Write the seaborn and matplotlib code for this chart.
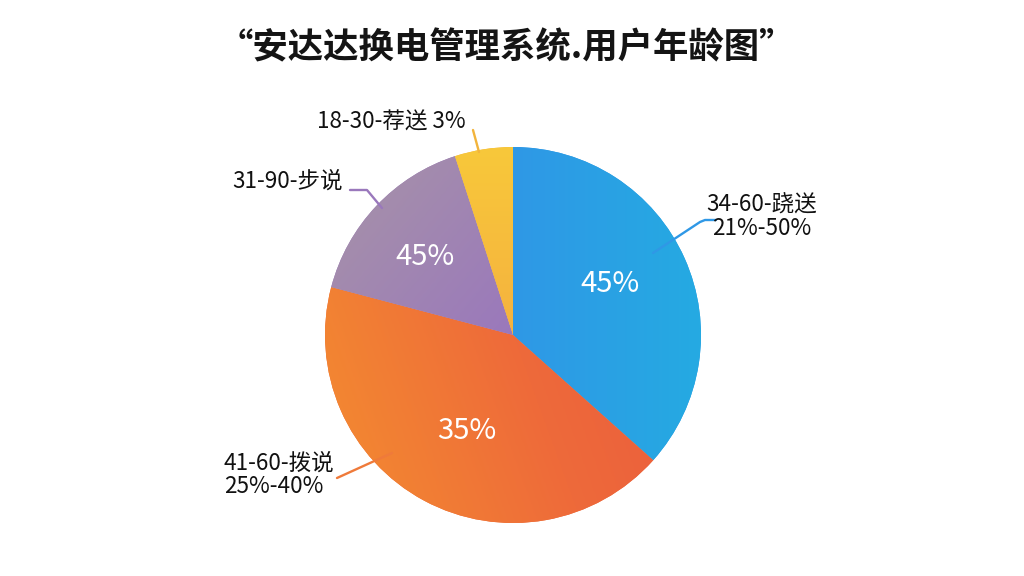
import numpy as np
import matplotlib
matplotlib.use("Agg")
import matplotlib.pyplot as plt
import seaborn as sns
from matplotlib.colors import LinearSegmentedColormap

# ---- data ----
categories = ["34-60-跷送", "41-60-拨说", "31-90-步说", "18-30-荐送"]
shares = [36.6, 42.5, 15.9, 5.0]
inner_labels = ["45%", "35%", "45%", ""]
outer_labels = ["34-60-跷送\n21%-50%", "41-60-拨说\n25%-40%", "31-90-步说", "18-30-荐送 3%"]
title = "“安达达换电管理系统.用户年龄图”"

# ---- style ----
sns.set_theme(style="white")
plt.rcParams['font.family'] = ['Noto Sans CJK SC', 'DejaVu Sans']

W, H = 1024, 576
fig = plt.figure(figsize=(W / 100, H / 100), dpi=100)
fig.patch.set_facecolor("white")
ax = fig.add_axes([0, 0, 1, 1])

def P(x, y):
    return x, H - y

cx, cy = P(513, 335)
R = 188

grad_stops = [
    (["#4585da", "#2f98e6", "#25aae2"], 0),      # blue: left -> right
    (["#f48d30", "#ee6a3a", "#e9553f"], 20),     # orange: left -> right
    (["#a895a6", "#9a78bc", "#8555dc"], -40),    # purple: upper-left -> lower-right
    (["#f8c83a", "#f5b23f", "#f29e48"], -90),    # yellow: top -> bottom
]
base_cols = ["#2f98e6", "#ee6a3a", "#9a78bc", "#f5b23f"]

wedges, _ = ax.pie(shares, startangle=90, counterclock=False,
                   center=(cx, cy), radius=R, colors=base_cols,
                   wedgeprops=dict(linewidth=0))

n = 300
xx, yy = np.meshgrid(np.linspace(-1, 1, n), np.linspace(-1, 1, n))
for w, (cols, ang) in zip(wedges, grad_stops):
    a = np.deg2rad(ang)
    t = xx * np.cos(a) + yy * np.sin(a)
    t = (t - t.min()) / (t.max() - t.min())
    cmap = LinearSegmentedColormap.from_list("g", cols)
    im = ax.imshow(t, cmap=cmap, origin="lower", interpolation="bilinear",
                   extent=(cx - R, cx + R, cy - R, cy + R), zorder=2)
    im.set_clip_path(w)

# inner labels
inner_pos = [(610, 284), (467, 431), (425, 257), None]
for lab, pos in zip(inner_labels, inner_pos):
    if lab and pos:
        ax.text(*P(*pos), lab, color="white", fontsize=21, ha="center",
                va="center", zorder=5)

# leader lines (annotation guides)
leaders = [
    ([653, 700, 705, 716], [253, 222, 220, 220], "#2f98e6"),
    ([392, 337], [453, 478], "#ef7a3a"),
    ([382, 367, 350], [208, 190, 190], "#9a78bc"),
    ([479, 473], [152, 130], "#f2b43c"),
]
for xs, ys, c in leaders:
    ax.plot(xs, [H - y for y in ys], color=c, lw=1.7, zorder=6,
            solid_capstyle="round")

# outer labels
fs = 16.2
ax.text(*P(762, 217), outer_labels[0], fontsize=fs, ha="center",
        va="center", color="#111111", linespacing=1.0, zorder=6)
ax.text(*P(224, 475), outer_labels[1], fontsize=fs, ha="left",
        va="center", color="#111111", linespacing=1.0, zorder=6)
ax.text(*P(232, 181), outer_labels[2], fontsize=fs, ha="left",
        va="center", color="#111111", zorder=6)
ax.text(*P(317, 122), outer_labels[3], fontsize=fs, ha="left",
        va="center", color="#111111", zorder=6)

# title
ax.text(*P(506, 48), title, fontsize=25.5, fontweight="bold", ha="center",
        va="center", color="#141414", zorder=6)

ax.set_xlim(0, W)
ax.set_ylim(0, H)
ax.set_aspect("auto")
ax.axis("off")

fig.savefig("out.png", dpi=100, facecolor="white")
